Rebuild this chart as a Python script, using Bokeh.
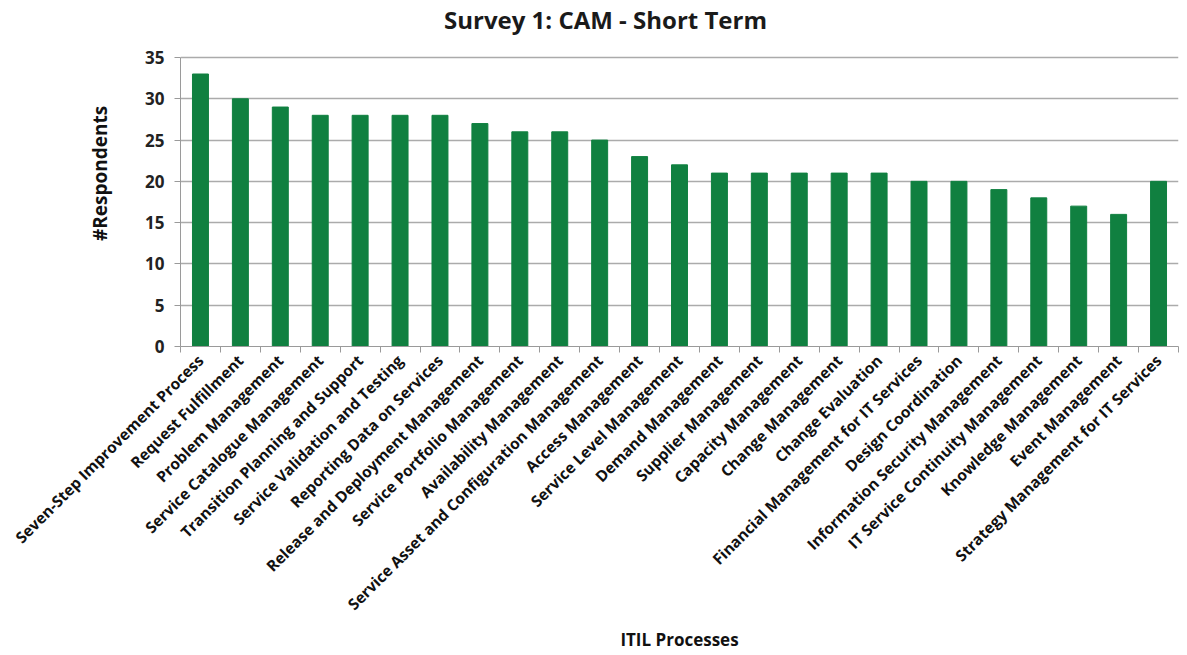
from bokeh.plotting import figure
from bokeh.models import FixedTicker, Range1d, Label
from bokeh.embed import file_html
from bokeh.resources import INLINE
import math

categories = [
    "Seven-Step Improvement Process",
    "Request Fulfillment",
    "Problem Management",
    "Service Catalogue Management",
    "Transition Planning and Support",
    "Service Validation and Testing",
    "Reporting Data on Services",
    "Release and Deployment Management",
    "Service Portfolio Management",
    "Availability Management",
    "Service Asset and Configuration Management",
    "Access Management",
    "Service Level Management",
    "Demand Management",
    "Supplier Management",
    "Capacity Management",
    "Change Management",
    "Change Evaluation",
    "Financial Management for IT Services",
    "Design Coordination",
    "Information Security Management",
    "IT Service Continuity Management",
    "Knowledge Management",
    "Event Management",
    "Strategy Management for IT Services",
]
respondents = [33, 30, 29, 28, 28, 28, 28, 27, 26, 26, 25, 23, 22, 21, 21, 21, 21, 21,
               20, 20, 19, 18, 17, 16, 20]
y_ticks = [0, 5, 10, 15, 20, 25, 30, 35]
y_max = 35
title_text = "Survey 1: CAM - Short Term"

FONT = "Open Sans"
n = len(categories)
xs = list(range(n))

# layout (pixels): frame spans the full height above the x axis so that the
# title can live inside it; the data area (0..35) occupies the lower 289 px.
FRAME_W, DATA_H, TOP_PAD = 998, 289, 57
FRAME_H = DATA_H + TOP_PAD
y_top = y_max * FRAME_H / DATA_H
TITLE_PX_X, TITLE_PX_Y = 605 - 180, 19          # title centre relative to frame top-left
title_x = -0.5 + TITLE_PX_X / FRAME_W * n
title_y = y_max * (FRAME_H - TITLE_PX_Y) / DATA_H

p = figure(frame_width=FRAME_W, frame_height=FRAME_H,
           min_border_left=180, min_border_right=1, min_border_top=0, min_border_bottom=298,
           x_range=Range1d(-0.5, n - 0.5), y_range=Range1d(0, y_top),
           output_backend="svg", toolbar_location=None, tools="")

p.vbar(x=xs, top=respondents, width=0.4, color="#108040")

title = Label(text=title_text, x=title_x, y=title_y,
              text_align="center", text_baseline="middle",
              text_font=FONT, text_font_size="24px", text_font_style="bold", text_color="#1a1a1a")
p.add_layout(title)

p.outline_line_color = None
p.xgrid.grid_line_color = None
p.ygrid.grid_line_color = "#ababab"
p.ygrid.grid_line_width = 1.3

# x axis
xax = p.xaxis[0]
xax.ticker = FixedTicker(ticks=xs, minor_ticks=[i - 0.5 for i in range(n + 1)])
xax.major_label_overrides = {i: c for i, c in enumerate(categories)}
xax.major_label_orientation = math.pi / 4
xax.major_tick_line_color = None
xax.minor_tick_line_color = "#9a9a9a"
xax.minor_tick_in = 0
xax.minor_tick_out = 6
xax.axis_line_color = "#9a9a9a"
xax.major_label_text_font = FONT
xax.major_label_text_font_size = "15.5px"
xax.major_label_text_font_style = "bold"
xax.major_label_text_color = "#111111"
xax.major_label_standoff = 5
xax.axis_label = "ITIL Processes"
xax.axis_label_text_font = FONT
xax.axis_label_text_font_size = "17px"
xax.axis_label_text_font_style = "bold"
xax.axis_label_text_color = "#111111"
xax.axis_label_standoff = 3

# y axis
yax = p.yaxis[0]
yax.ticker = FixedTicker(ticks=y_ticks)
yax.bounds = (0, y_max)
yax.minor_tick_line_color = None
yax.major_tick_in = 0
yax.major_tick_out = 6
yax.major_tick_line_color = "#9a9a9a"
yax.axis_line_color = "#9a9a9a"
yax.major_label_text_font = FONT
yax.major_label_text_font_size = "17px"
yax.major_label_text_font_style = "bold"
yax.major_label_text_color = "#222222"
yax.major_label_standoff = 10
yax.axis_label = "#Respondents"
yax.axis_label_text_font = FONT
yax.axis_label_text_font_size = "19px"
yax.axis_label_text_font_style = "bold"
yax.axis_label_text_color = "#111111"
yax.axis_label_standoff = 29

open("out.html", "w").write(file_html(p, INLINE))
